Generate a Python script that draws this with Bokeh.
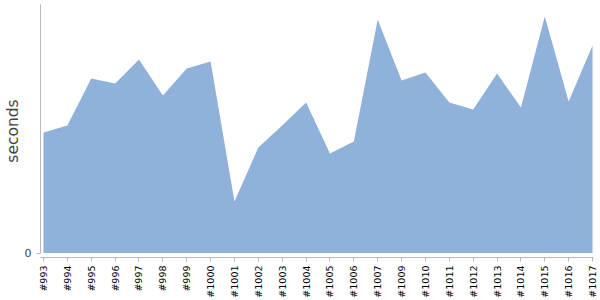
from bokeh.plotting import figure
from bokeh.models import ColumnDataSource, FixedTicker, Range1d
from bokeh.embed import file_html
from bokeh.resources import INLINE

builds = ["#993", "#994", "#995", "#996", "#997", "#998", "#999", "#1000",
          "#1001", "#1002", "#1003", "#1004", "#1005", "#1006", "#1007",
          "#1009", "#1010", "#1011", "#1012", "#1013", "#1014", "#1015",
          "#1016", "#1017"]
seconds = [120.5, 127.5, 174.5, 169.5, 193.5, 157.5, 184.5, 191.5,
           51.5, 105.5, 127.5, 150.5, 99.5, 111.5, 233.5,
           172.5, 180.5, 150.5, 143.5, 179.5, 145.5, 236.5,
           151.5, 207.5]
y_top = 248.5

idx = list(range(len(builds)))
src = ColumnDataSource(dict(x=idx, y=seconds, build=builds))

p = figure(width=600, height=300, output_backend="svg", toolbar_location=None,
           x_range=Range1d(-0.126, len(builds) - 1 + 0.04),
           y_range=Range1d(-4.5, y_top),
           min_border_left=40, min_border_right=7, min_border_top=4,
           min_border_bottom=43)
p.outline_line_color = None
p.xgrid.grid_line_color = None
p.ygrid.grid_line_color = None
p.background_fill_color = "white"
p.border_fill_color = "white"

p.varea(x="x", y1=0, y2="y", source=src, fill_color="#8fb1da", fill_alpha=1.0)

xa = p.xaxis[0]
xa.ticker = FixedTicker(ticks=idx)
xa.major_label_overrides = {i: b for i, b in zip(idx, builds)}
xa.major_label_orientation = 3.14159265 / 2
xa.major_label_text_font = "DejaVu Sans"
xa.major_label_text_font_size = "9.5px"
xa.major_label_text_color = "#000000"
xa.major_label_standoff = 4
xa.axis_line_color = "#b8b8b8"
xa.major_tick_line_color = "#b8b8b8"
xa.major_tick_out = 4
xa.major_tick_in = 0
xa.minor_tick_line_color = None

ya = p.yaxis[0]
ya.ticker = FixedTicker(ticks=[0])
ya.bounds = (0, y_top)
ya.axis_label = "seconds"
ya.axis_label_text_font = "DejaVu Sans"
ya.axis_label_text_font_size = "15.5px"
ya.axis_label_text_font_style = "normal"
ya.axis_label_text_color = "#444444"
ya.axis_label_standoff = 0
ya.major_label_text_font = "DejaVu Sans"
ya.major_label_text_font_size = "11px"
ya.major_label_text_color = "#444444"
ya.major_label_standoff = 5
ya.axis_line_color = "#b8b8b8"
ya.major_tick_line_color = "#b8b8b8"
ya.major_tick_out = 4
ya.major_tick_in = 0
ya.minor_tick_line_color = None

open("out.html", "w").write(file_html(p, INLINE))
